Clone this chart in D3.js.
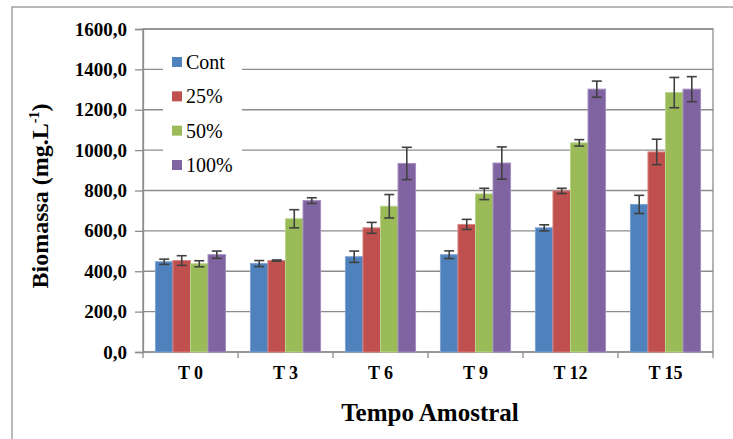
<!DOCTYPE html>
<html>
<head>
<meta charset="utf-8">
<script src="https://cdn.jsdelivr.net/npm/d3@7"></script>
<style>
  html, body { margin: 0; padding: 0; background: #fff; }
  svg { display: block; }
  text { font-family: "Liberation Serif", "Times New Roman", serif; fill: #000; }
</style>
</head>
<body>
<svg id="chart" width="733" height="439"></svg>
<script>
// Sampling times and treatments
const categories = ["T 0", "T 3", "T 6", "T 9", "T 12", "T 15"];
const series = ["Cont", "25%", "50%", "100%"];
const colors = ["#4F81BD", "#C0504D", "#9BBB59", "#8064A2"];
const edgeColors = ["#7FA3D3", "#D88381", "#B8D38A", "#A58DC0"];

// Mean biomass (mg/L) per treatment, one entry per sampling time
const contValues = [447, 438, 472, 482, 615, 731];
const p25Values  = [453, 453, 615, 632, 798, 991];
const p50Values  = [437, 660, 722, 783, 1036, 1285];
const p100Values = [482, 750, 934, 936, 1302, 1302];

// Standard deviations
const contErr = [13, 15, 28, 19, 15, 45];
const p25Err  = [24, 3, 27, 25, 13, 63];
const p50Err  = [15, 45, 58, 28, 16, 75];
const p100Err = [18, 14, 80, 80, 40, 62];

const yTicks = [0, 200, 400, 600, 800, 1000, 1200, 1400, 1600];

const valueSets = [contValues, p25Values, p50Values, p100Values];
const errSets = [contErr, p25Err, p50Err, p100Err];

const serif = "Liberation Serif, Times New Roman, serif";
const svg = d3.select("#chart");
const plot = { left: 143, right: 713, top: 29, bottom: 352 };

// Outer chart frame
svg.append("rect")
  .attr("x", 12).attr("y", 7)
  .attr("width", 760).attr("height", 460)
  .attr("fill", "none").attr("stroke", "#8c8c8c").attr("stroke-width", 1.2);

const x0 = d3.scaleBand().domain(categories).range([plot.left, plot.right]).padding(0);
const x1 = d3.scaleBand().domain(series).range([0, x0.bandwidth()]).paddingInner(0).paddingOuter(0.71);
const y = d3.scaleLinear().domain([0, 1600]).range([plot.bottom, plot.top]);

const fmt = v => d3.format(".1f")(v).replace(".", ",");

// Horizontal gridlines
svg.append("g")
  .selectAll("line")
  .data(yTicks)
  .join("line")
  .attr("x1", plot.left).attr("x2", plot.right)
  .attr("y1", d => y(d)).attr("y2", d => y(d))
  .attr("stroke", "#8c8c8c").attr("stroke-width", 1.3);

// Plot area border
svg.append("rect")
  .attr("x", plot.left).attr("y", plot.top)
  .attr("width", plot.right - plot.left).attr("height", plot.bottom - plot.top)
  .attr("fill", "none").attr("stroke", "#8c8c8c").attr("stroke-width", 1.3);

// Y axis
const yAxis = svg.append("g")
  .attr("transform", `translate(${plot.left},0)`)
  .call(d3.axisLeft(y).tickValues(yTicks).tickFormat(fmt).tickSize(8).tickPadding(8));
yAxis.select(".domain").attr("stroke", "#8c8c8c").attr("stroke-width", 1.3);
yAxis.selectAll(".tick line").attr("stroke", "#8c8c8c").attr("stroke-width", 1.3);
yAxis.selectAll(".tick text")
  .attr("font-family", serif)
  .attr("font-weight", "bold").attr("font-size", 19).attr("fill", "#000");

// X axis
const xAxis = svg.append("g")
  .attr("transform", `translate(0,${plot.bottom})`)
  .call(d3.axisBottom(x0).tickSize(0).tickPadding(14));
xAxis.select(".domain").remove();
xAxis.selectAll(".tick text")
  .attr("font-family", serif)
  .attr("font-weight", "bold").attr("font-size", 18).attr("fill", "#000");

// Category boundary ticks
const bounds = categories.map(c => x0(c)).concat([plot.right]);
svg.append("g")
  .selectAll("line")
  .data(bounds)
  .join("line")
  .attr("x1", d => d).attr("x2", d => d)
  .attr("y1", plot.bottom).attr("y2", plot.bottom + 6)
  .attr("stroke", "#8c8c8c").attr("stroke-width", 1.3);

// Bars
const groups = svg.append("g")
  .selectAll("g")
  .data(series)
  .join("g");

groups.each(function (s, si) {
  const rows = categories.map((c, ci) => ({ c, v: valueSets[si][ci], e: errSets[si][ci] }));
  const g = d3.select(this);
  g.selectAll("rect")
    .data(rows)
    .join("rect")
    .attr("x", d => x0(d.c) + x1(s))
    .attr("y", d => y(d.v))
    .attr("width", x1.bandwidth())
    .attr("height", d => y(0) - y(d.v))
    .attr("fill", colors[si])
    .attr("stroke", edgeColors[si]).attr("stroke-width", 1);
});

// Error bars
groups.each(function (s, si) {
  const rows = categories.map((c, ci) => ({ c, v: valueSets[si][ci], e: errSets[si][ci] }));
  const g = d3.select(this).append("g").attr("stroke", "#404040").attr("stroke-width", 1.6);
  const cx = d => x0(d.c) + x1(s) + x1.bandwidth() / 2;
  g.selectAll("line.v").data(rows).join("line").attr("class", "v")
    .attr("x1", cx).attr("x2", cx)
    .attr("y1", d => y(d.v + d.e)).attr("y2", d => y(d.v - d.e));
  g.selectAll("line.t").data(rows).join("line").attr("class", "t")
    .attr("x1", d => cx(d) - 5).attr("x2", d => cx(d) + 5)
    .attr("y1", d => y(d.v + d.e)).attr("y2", d => y(d.v + d.e));
  g.selectAll("line.b").data(rows).join("line").attr("class", "b")
    .attr("x1", d => cx(d) - 5).attr("x2", d => cx(d) + 5)
    .attr("y1", d => y(d.v - d.e)).attr("y2", d => y(d.v - d.e));
});

// Legend
const legend = svg.append("g");
legend.append("rect")
  .attr("x", 163).attr("y", 45).attr("width", 79).attr("height", 135)
  .attr("fill", "#fff");
const ly = d3.scalePoint().domain(series).range([62, 165]);
const li = legend.selectAll("g.item").data(series).join("g").attr("class", "item")
  .attr("transform", d => `translate(172,${ly(d)})`);
li.append("rect")
  .attr("x", 0).attr("y", -5).attr("width", 10).attr("height", 10)
  .attr("fill", (d, i) => colors[i]);
li.append("text")
  .attr("x", 14).attr("y", 0).attr("dy", "0.35em")
  .attr("font-family", serif)
  .attr("font-size", 20)
  .text(d => d);

// Axis titles
svg.append("text")
  .attr("x", (plot.left + plot.right) / 2 + 2).attr("y", 421)
  .attr("text-anchor", "middle")
  .attr("font-family", serif)
  .attr("font-weight", "bold").attr("font-size", 25)
  .text("Tempo Amostral");

const yt = svg.append("text")
  .attr("transform", "translate(48,196) rotate(-90)")
  .attr("text-anchor", "middle")
  .attr("font-family", serif)
  .attr("font-weight", "bold").attr("font-size", 24);
yt.append("tspan").text("Biomassa (mg.L");
yt.append("tspan").attr("font-size", 14).attr("dy", -9).text("-1");
yt.append("tspan").attr("dy", 9).text(")");
</script>
</body>
</html>
